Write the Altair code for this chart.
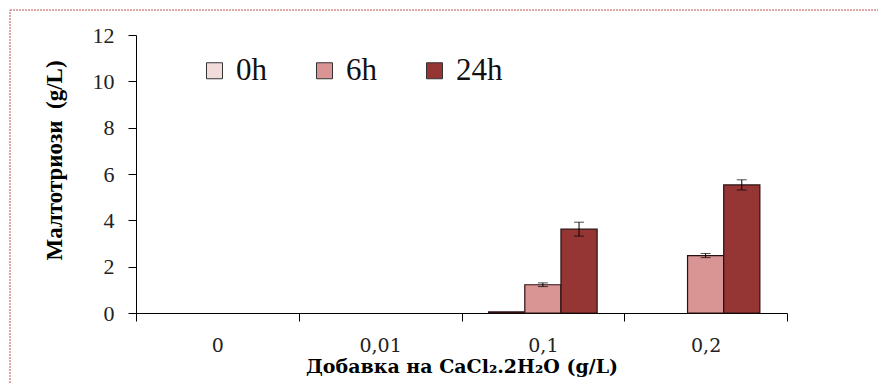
import altair as alt
import pandas as pd

# CaCl2.2H2O additions (g/L) and sampling times
categories = ["0", "0,01", "0,1", "0,2"]
hours = ["0h", "6h", "24h"]

# Maltotriose concentration (g/L) per sampling time
values_0h = [0.0, 0.0, 0.05, 0.0]
values_6h = [0.0, 0.0, 1.22, 2.48]
values_24h = [0.0, 0.0, 3.62, 5.53]

# Standard deviations
err_0h = [0.0, 0.0, 0.0, 0.0]
err_6h = [0.0, 0.0, 0.08, 0.09]
err_24h = [0.0, 0.0, 0.30, 0.22]

colors = ["#F2DCDB", "#D99594", "#963634"]

rows = []
for h, vals, errs in zip(hours, [values_0h, values_6h, values_24h], [err_0h, err_6h, err_24h]):
    for c, v, e in zip(categories, vals, errs):
        rows.append({"cat": c, "hour": h, "value": v, "err": e,
                     "lo": v - e, "hi": v + e})
df = pd.DataFrame(rows)

W, H = 651, 278
SERIF = "Liberation Serif"

x_scale = alt.Scale(domain=categories, paddingInner=0, paddingOuter=0)
x_enc = alt.X(
    "cat:N", sort=categories, scale=x_scale,
    axis=alt.Axis(
        title="Добавка на CaCl₂.2H₂O (g/L)",
        titleFont="DejaVu Serif", titleFontSize=19, titleFontWeight="bold",
        titleColor="#000", titleY=59, titleBaseline="alphabetic",
        labelFont="DejaVu Serif", labelFontSize=19, labelColor="#222",
        labelPadding=15, labelAngle=0,
        tickBand="extent", tickSize=8, tickColor="#000", domainColor="#000",
        domainWidth=1, tickWidth=1, grid=False,
    ),
)
xoff_enc = alt.XOffset("hour:N", sort=hours,
                       scale=alt.Scale(domain=hours, paddingInner=0, paddingOuter=0.75))

y_scale = alt.Scale(domain=[0, 12], nice=False)

bars = alt.Chart(df).transform_filter("datum.value > 0").mark_bar(
    stroke="#2a1010", strokeWidth=1.2
).encode(
    x=x_enc,
    xOffset=xoff_enc,
    y=alt.Y("value:Q", stack=None, scale=y_scale, axis=alt.Axis(
        title="Малтотриози\u00a0\u00a0(g/L)",
        titleFont=SERIF, titleFontSize=23, titleFontWeight="bold",
        titleColor="#000", titleX=-82, titleY=125, titleAngle=270,
        titleAlign="center", titleBaseline="middle",
        values=[0, 2, 4, 6, 8, 10, 12],
        labelFont=SERIF, labelFontSize=22, labelColor="#222",
        labelPadding=14, tickSize=8, tickColor="#000", domainColor="#000",
        grid=False,
    )),
    color=alt.Color("hour:N", sort=hours,
                    scale=alt.Scale(domain=hours, range=colors),
                    legend=alt.Legend(
                        title=None, orient="none", legendX=63, legendY=20,
                        direction="horizontal", symbolType="square",
                        symbolSize=256, symbolStrokeColor="#333",
                        symbolStrokeWidth=1, labelFont=SERIF,
                        labelFontSize=31, labelColor="#111", labelOffset=6,
                        columnPadding=42, padding=0,
                    )),
)

err_df = df[df["err"] > 0]

err_rule = alt.Chart(err_df).mark_rule(color="#000", strokeWidth=1).encode(
    x=alt.X("cat:N", sort=categories, scale=x_scale),
    xOffset=xoff_enc,
    y=alt.Y("lo:Q", scale=y_scale),
    y2="hi:Q",
)
cap_lo = alt.Chart(err_df).mark_tick(color="#000", thickness=1, size=10).encode(
    x=alt.X("cat:N", sort=categories, scale=x_scale),
    xOffset=xoff_enc,
    y=alt.Y("lo:Q", scale=y_scale),
)
cap_hi = alt.Chart(err_df).mark_tick(color="#000", thickness=1, size=10).encode(
    x=alt.X("cat:N", sort=categories, scale=x_scale),
    xOffset=xoff_enc,
    y=alt.Y("hi:Q", scale=y_scale),
)

# dotted frame around the figure; its right and bottom edges sit past the canvas
frame = alt.Chart(alt.Data(values=[{}])).mark_rect(
    fill=None, stroke="#C0504D", strokeWidth=1, strokeDash=[2, 1]
).encode(x=alt.value(-126), x2=alt.value(770), y=alt.value(-25), y2=alt.value(380))

chart = alt.layer(bars, err_rule, cap_lo, cap_hi, frame).properties(
    width=W, height=H,
    background="white",
    autosize=alt.AutoSizeParams(type="none"),
    padding={"left": 136, "top": 35, "right": 91, "bottom": 70},
).configure_view(stroke=None)

chart.save("out.html", embed_options={"renderer": "svg", "actions": False})
